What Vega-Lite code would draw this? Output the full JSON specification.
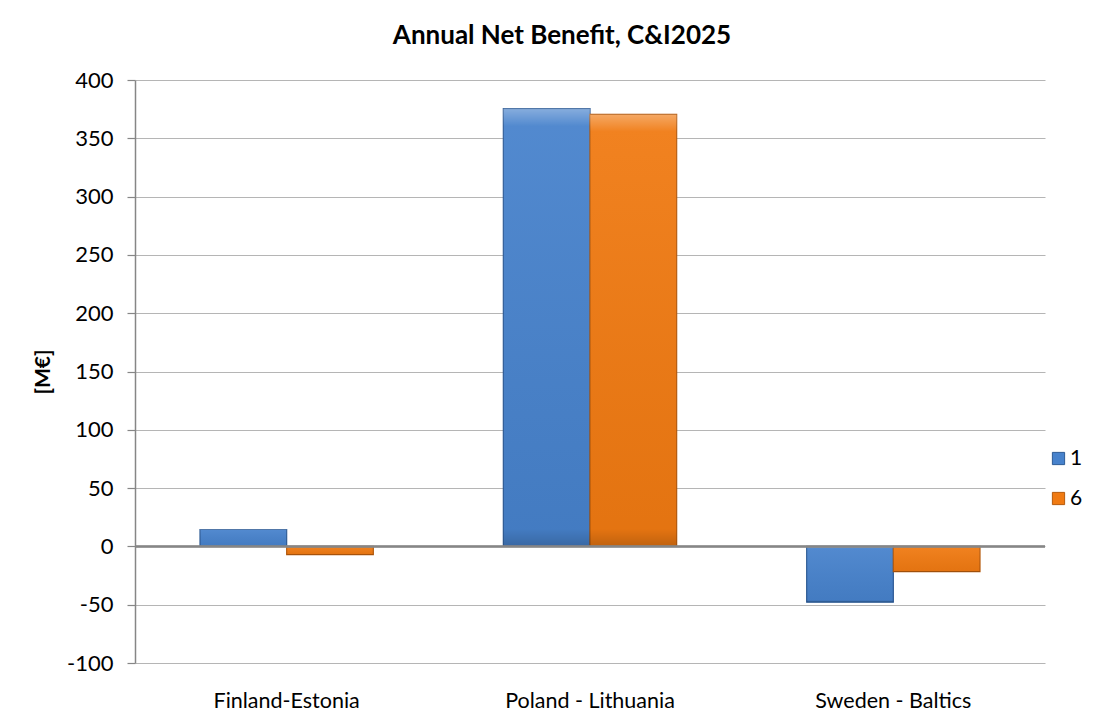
{
  "$schema": "https://vega.github.io/schema/vega-lite/v6.json",
  "width": 910,
  "height": 583,
  "autosize": {"type": "none"},
  "padding": {"left": 135, "top": 80, "right": 61, "bottom": 63},
  "background": "white",
  "config": {"view": {"stroke": null}, "font": "Lato"},
  "title": {"text": "Annual Net Benefit, C&I2025", "font": "Lato", "fontSize": 26, "fontWeight": "bold", "color": "black", "anchor": "middle", "dx": -28, "offset": 20},
  "data": {"values": [
    {"link": "Finland-Estonia", "series": "1", "value": 14.5},
    {"link": "Finland-Estonia", "series": "6", "value": -7},
    {"link": "Poland - Lithuania", "series": "1", "value": 375.5},
    {"link": "Poland - Lithuania", "series": "6", "value": 370.5},
    {"link": "Sweden - Baltics", "series": "1", "value": -47.8},
    {"link": "Sweden - Baltics", "series": "6", "value": -21.7}
  ]},
  "encoding": {
    "x": {"field": "link", "type": "nominal", "sort": null, "scale": {"paddingInner": 0, "paddingOuter": 0},
      "axis": {"title": null, "domain": false, "ticks": false, "grid": false, "labelAngle": 0, "labelFont": "Lato", "labelFontSize": 21.5, "labelColor": "black", "labelPadding": 27}},
    "xOffset": {"field": "series", "type": "nominal", "scale": {"paddingInner": 0, "paddingOuter": 0.75}},
    "y": {"field": "value", "type": "quantitative", "scale": {"domain": [-100, 400], "nice": false, "zero": false},
      "axis": {"values": [-100, -50, 0, 50, 100, 150, 200, 250, 300, 350, 400], "grid": true, "gridColor": "#b5b5b5", "gridWidth": 1.2,
        "domainColor": "#868686", "domainWidth": 1.5, "tickColor": "#868686", "tickSize": 8, "tickWidth": 1.2,
        "labelExpr": "replace(datum.label, '\u2212', '-')",
        "labelFont": "Lato", "labelFontSize": 22, "labelColor": "black", "labelPadding": 14,
        "title": "[M€]", "titleFont": "Lato", "titleFontSize": 21, "titleFontWeight": "bold", "titleColor": "black",
        "titleAngle": -90, "titleX": -92, "titleY": 291.5, "titleAlign": "center", "titleBaseline": "middle"}}
  },
  "layer": [
    {
      "mark": {"type": "bar", "strokeWidth": 1.2},
      "encoding": {
        "color": {"field": "series", "type": "nominal", "scale": {"range": ["#4782cc", "#f07a12"]},
          "legend": {"title": null, "orient": "none", "legendX": 913, "legendY": 368, "symbolType": "square", "symbolSize": 150, "symbolStrokeWidth": 1,
            "labelFont": "Lato", "labelFontSize": 21, "labelColor": "black", "rowPadding": 18, "labelOffset": 1}},
        "stroke": {"field": "series", "type": "nominal", "scale": {"range": ["#2d5b96", "#b65a0c"]}, "legend": null}
      }
    },
    {
      "mark": {"type": "bar", "fill": {"gradient": "linear", "x1": 0, "y1": 0, "x2": 0, "y2": 1,
        "stops": [
          {"offset": 0, "color": "rgba(255,255,255,0.35)"},
          {"offset": 0.04, "color": "rgba(255,255,255,0.06)"},
          {"offset": 0.96, "color": "rgba(0,0,0,0.05)"},
          {"offset": 1, "color": "rgba(0,0,0,0.2)"}
        ]}, "strokeWidth": 0}
    },
    {
      "mark": {"type": "rule", "color": "#868686", "strokeWidth": 1.5},
      "encoding": {"y": {"datum": 0}, "x": null, "xOffset": null}
    }
  ]
}
